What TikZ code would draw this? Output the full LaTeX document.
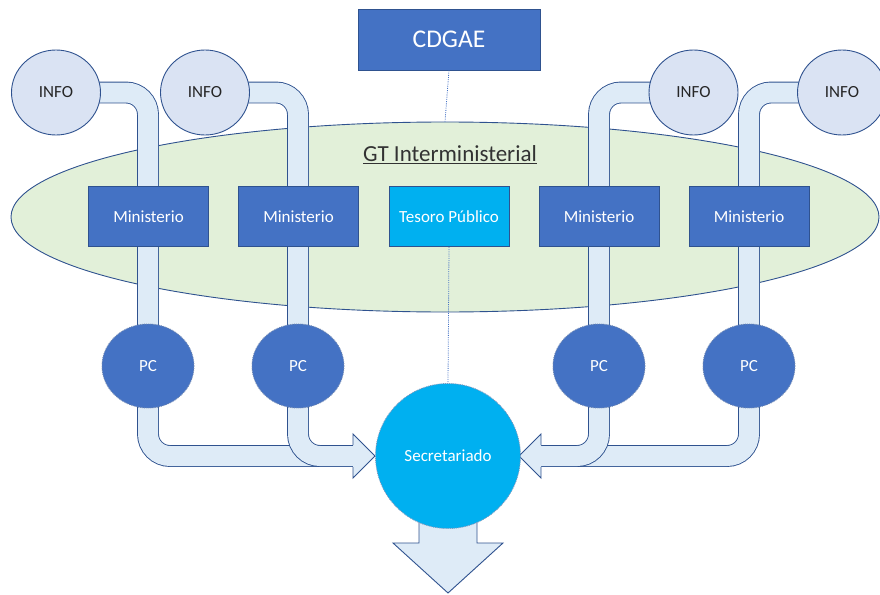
\documentclass[tikz,border=0pt]{standalone}
\usepackage{fontspec}
\setmainfont{Carlito}
\usetikzlibrary{shapes.geometric, positioning}
\definecolor{boxblue}{RGB}{68, 114, 196}
\definecolor{edgeblue}{RGB}{47, 82, 143}
\definecolor{cyanbox}{RGB}{0, 176, 240}
\definecolor{infofill}{RGB}{218, 227, 243}
\definecolor{pipefill}{RGB}{222, 235, 247}
\definecolor{gtgreen}{RGB}{226, 240, 217}
\definecolor{textgray}{RGB}{50, 50, 50}
\pgfdeclarelayer{ground}
\pgfdeclarelayer{pipes}
\pgfsetlayers{ground,pipes,main}

\begin{document}
\begin{tikzpicture}[
    x=1pt, y=-1pt,
    ministry/.style={rectangle, draw=edgeblue, line width=0.8pt, fill=boxblue, minimum width=120pt, minimum height=60pt, font=\fontsize{17}{20}\selectfont, text=white},
    treasury/.style={ministry, fill=cyanbox},
    infocirc/.style={ellipse, draw=edgeblue, line width=0.9pt, fill=infofill, minimum width=89pt, minimum height=85pt, inner sep=0pt, font=\fontsize{17}{20}\selectfont, text=black!85},
    pccirc/.style={ellipse, draw=edgeblue!70, densely dotted, line width=0.9pt, fill=boxblue, minimum width=92pt, minimum height=84pt, inner sep=0pt, font=\fontsize{17}{20}\selectfont, text=white},
    secbox/.style={circle, draw=edgeblue!60, densely dotted, line width=0.9pt, fill=cyanbox, minimum width=145pt, inner sep=0pt, font=\fontsize{17}{20}\selectfont, text=white},
    pipe/.style={draw=edgeblue, line width=0.9pt, double=pipefill, double distance=20pt, rounded corners=22pt},
    pipeedge/.style={draw=edgeblue, line width=0.9pt, line join=miter},
    link/.style={boxblue, line width=0.8pt, dash pattern=on 1pt off 1.2pt}
]
\useasboundingbox (0,0) rectangle (880,594);

% CDGAE y grupo de trabajo
\node[ministry, minimum width=182pt, minimum height=61pt, font=\fontsize{25.5}{28}\selectfont] (cdgae) at (449, 39.5) {CDGAE};
\begin{pgfonlayer}{ground}
\node[ellipse, draw=edgeblue, line width=0.9pt, fill=gtgreen, minimum width=868pt, minimum height=190pt] (gt) at (445, 217) {};
\end{pgfonlayer}
\node[font=\fontsize{23}{26}\selectfont, text=textgray] (gtlabel) at (450, 155) {\underline{GT Interministerial}};
\draw[link] (cdgae.south) -- (gt.north);

% fuentes de informacion
\node[infocirc] (info1) at (56, 92.5) {INFO};
\node[infocirc] (info2) at (205, 92.5) {INFO};
\node[infocirc] (info3) at (693.5, 92.5) {INFO};
\node[infocirc] (info4) at (842, 92.5) {INFO};

% ministerios
\node[ministry] (min1) at (148.5, 216.5) {Ministerio};
\node[ministry] (min2) at (298.5, 216.5) {Ministerio};
\node[treasury] (tesoro) at (449, 216.5) {Tesoro Público};
\node[ministry] (min3) at (599, 216.5) {Ministerio};
\node[ministry] (min4) at (749, 216.5) {Ministerio};

% puntos de contacto
\node[pccirc] (pc1) at (148, 366) {PC};
\node[pccirc] (pc2) at (298, 366) {PC};
\node[pccirc] (pc3) at (599, 366) {PC};
\node[pccirc] (pc4) at (749, 366) {PC};

% secretariado
\node[secbox] (secret) at (448, 456) {Secretariado};
\coordinate (lbase) at (353, 456);
\coordinate (rbase) at (541, 456);

\begin{pgfonlayer}{pipes}
\draw[link] (tesoro.south) -- (secret.north);

% tubos izquierda
\draw[pipe] (info1.center) -| (pc1.center) |- (lbase);
\draw[pipe] (info2.center) -| (pc2.center) |- (lbase);
\fill[pipefill] (lbase) ++(0,-22) -- ++(22,22) -- ++(-22,22) -- cycle;
\draw[pipeedge] (lbase) ++(0,-11) -- ++(0,-11) -- ++(22,22) -- ++(-22,22) -- ++(0,-11);

% tubos derecha
\draw[pipe] (info4.center) -| (pc4.center) |- (rbase);
\draw[pipe] (info3.center) -| (pc3.center) |- (rbase);
\fill[pipefill] (rbase) ++(0,-22) -- ++(-22,22) -- ++(22,22) -- cycle;
\draw[pipeedge] (rbase) ++(0,-11) -- ++(0,-11) -- ++(-22,22) -- ++(22,22) -- ++(0,-11);

% salida
\filldraw[pipeedge, fill=pipefill] (secret.center) ++(-29,0) -- ++(0,87) -- ++(-26,0) -- ++(55,50) -- ++(55,-50) -- ++(-26,0) -- ++(0,-87) -- cycle;
\end{pgfonlayer}

\end{tikzpicture}
\end{document}
